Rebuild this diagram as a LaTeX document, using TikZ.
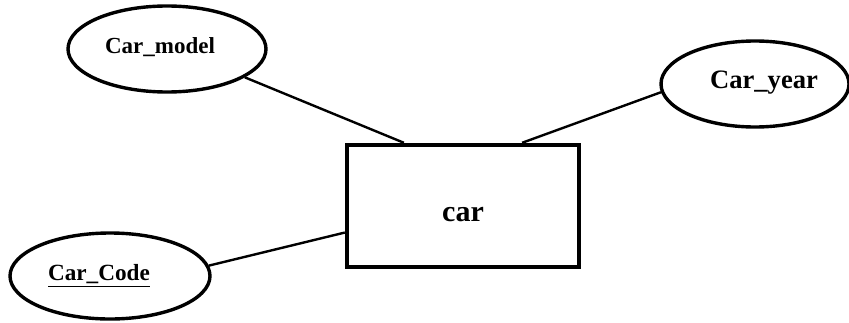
\documentclass[tikz,border=0pt]{standalone}
\usepackage{fontspec}
\setmainfont{Liberation Serif}
\usepackage{tikz}
\usetikzlibrary{shapes.geometric,calc}

\tikzset{
    attr/.style={draw,ellipse,line width=1.7pt,inner sep=0pt},
    entity/.style={draw,rectangle,line width=2.2pt,inner sep=0pt},
    caption/.style={inner sep=0pt,font=\bfseries},
    link/.style={line width=1.2pt}
}

\begin{document}
\begin{tikzpicture}[x=0.5pt,y=0.5pt]
    \useasboundingbox (0,0) rectangle (849,322);
    % entity
    \node[entity,minimum width=116pt,minimum height=61pt] (car) at (463,116) {};
    \node[caption,font=\bfseries\fontsize{15}{18}\selectfont] (cartext) at (463,107) {car};
    % attributes
    \node[attr,minimum width=99pt,minimum height=43pt] (model) at (167,273) {};
    \node[caption,font=\bfseries\fontsize{11.5}{14}\selectfont] (modeltext) at (160,275) {Car\_model};
    \node[attr,minimum width=94pt,minimum height=43pt] (year) at (755,238) {};
    \node[caption,font=\bfseries\fontsize{13.3}{16}\selectfont] (yeartext) at (764,239) {Car\_year};
    \node[attr,minimum width=100pt,minimum height=43pt] (code) at (110,46) {};
    \node[caption,font=\bfseries\fontsize{11.6}{14}\selectfont] (codetext) at (99,46) {\underline{Car\_Code}};
    % links
    \draw[link] (model.-20) -- ($(car.north west)!0.25!(car.north east)$);
    \draw[link] (year.185) -- ($(car.north west)!0.75!(car.north east)$);
    \draw[link] (code.6) -- ($(car.north west)!0.71!(car.south west)$);
\end{tikzpicture}
\end{document}
